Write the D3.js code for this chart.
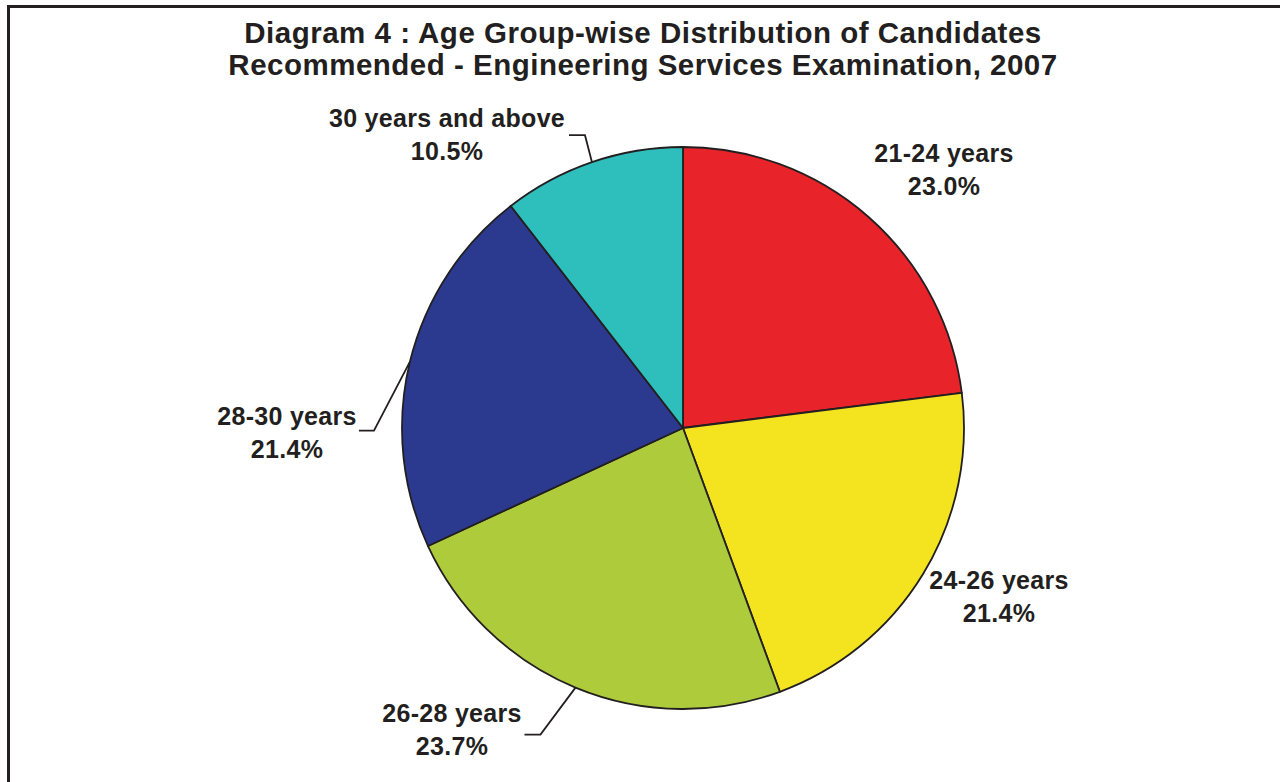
<!DOCTYPE html>
<html><head><meta charset="utf-8">
<script src="https://cdn.jsdelivr.net/npm/d3@7"></script>
<style>body{margin:0;background:#fff}svg{display:block}</style>
</head><body>
<script>
const categories = ["21-24 years", "24-26 years", "26-28 years", "28-30 years", "30 years and above"];
const values = [23.0, 21.4, 23.7, 21.4, 10.5];
const colors = ["#e8232a", "#f3e41f", "#adcb3b", "#2b3a8f", "#2ebfbc"];
const titleLines = ["Diagram 4 : Age Group-wise Distribution of Candidates", "Recommended - Engineering Services Examination, 2007"];

const W = 1280, H = 782;
const cx = 683, cy = 428, R = 281;
// label layout: [label x, label y (first line baseline)], leader: null or [elbow dx, elbow dy, horizontal end dx]
const labelLayout = [
  {x: 944, y: 162, leader: null},
  {x: 999, y: 589, leader: null},
  {x: 452, y: 722, leader: [-35, 47, -16]},
  {x: 287, y: 425, leader: [-36, 69, -15]},
  {x: 447, y: 127, leader: [-7, -27, -16]}
];

const svg = d3.select("body").append("svg").attr("width", W).attr("height", H);
svg.append("rect").attr("x", 8.5).attr("y", 6.5).attr("width", W + 20).attr("height", H + 20)
  .attr("fill", "none").attr("stroke", "#231f20").attr("stroke-width", 3);

svg.append("g").selectAll("text").data(titleLines).join("text")
  .attr("x", 643).attr("y", (d, i) => 43 + i * 32)
  .attr("text-anchor", "middle")
  .attr("font-family", "Liberation Sans, Arial, sans-serif")
  .attr("font-weight", "bold").attr("font-size", 29.5).attr("letter-spacing", 0.5).attr("fill", "#231f20")
  .text(d => d);

const data = categories.map((c, i) => ({cat: c, value: values[i], color: colors[i], layout: labelLayout[i]}));
const pie = d3.pie().value(d => d.value).sort(null);
const arcs = pie(data);
const arc = d3.arc().innerRadius(0).outerRadius(R);
const g = svg.append("g").attr("transform", `translate(${cx},${cy})`);
g.selectAll("path").data(arcs).join("path")
  .attr("d", arc).attr("fill", d => d.data.color)
  .attr("stroke", "#231f20").attr("stroke-width", 1.8).attr("stroke-linejoin", "round");

// leader lines
arcs.forEach(a => {
  const L = a.data.layout.leader;
  if (!L) return;
  const m = (a.startAngle + a.endAngle) / 2;
  const px = cx + R * Math.sin(m), py = cy - R * Math.cos(m);
  const ex = px + L[0], ey = py + L[1];
  svg.append("polyline")
    .attr("points", `${px},${py} ${ex},${ey} ${ex + L[2]},${ey}`)
    .attr("fill", "none").attr("stroke", "#231f20").attr("stroke-width", 1.8);
});

const lab = svg.append("g").attr("font-family", "Liberation Sans, Arial, sans-serif")
  .attr("font-weight", "bold").attr("font-size", 25).attr("letter-spacing", 0.3).attr("fill", "#231f20").attr("text-anchor", "middle");
arcs.forEach(a => {
  const t = lab.append("text").attr("x", a.data.layout.x).attr("y", a.data.layout.y);
  t.append("tspan").attr("x", a.data.layout.x).text(a.data.cat);
  t.append("tspan").attr("x", a.data.layout.x).attr("dy", 33).text(a.data.value.toFixed(1) + "%");
});
</script>
</body></html>
